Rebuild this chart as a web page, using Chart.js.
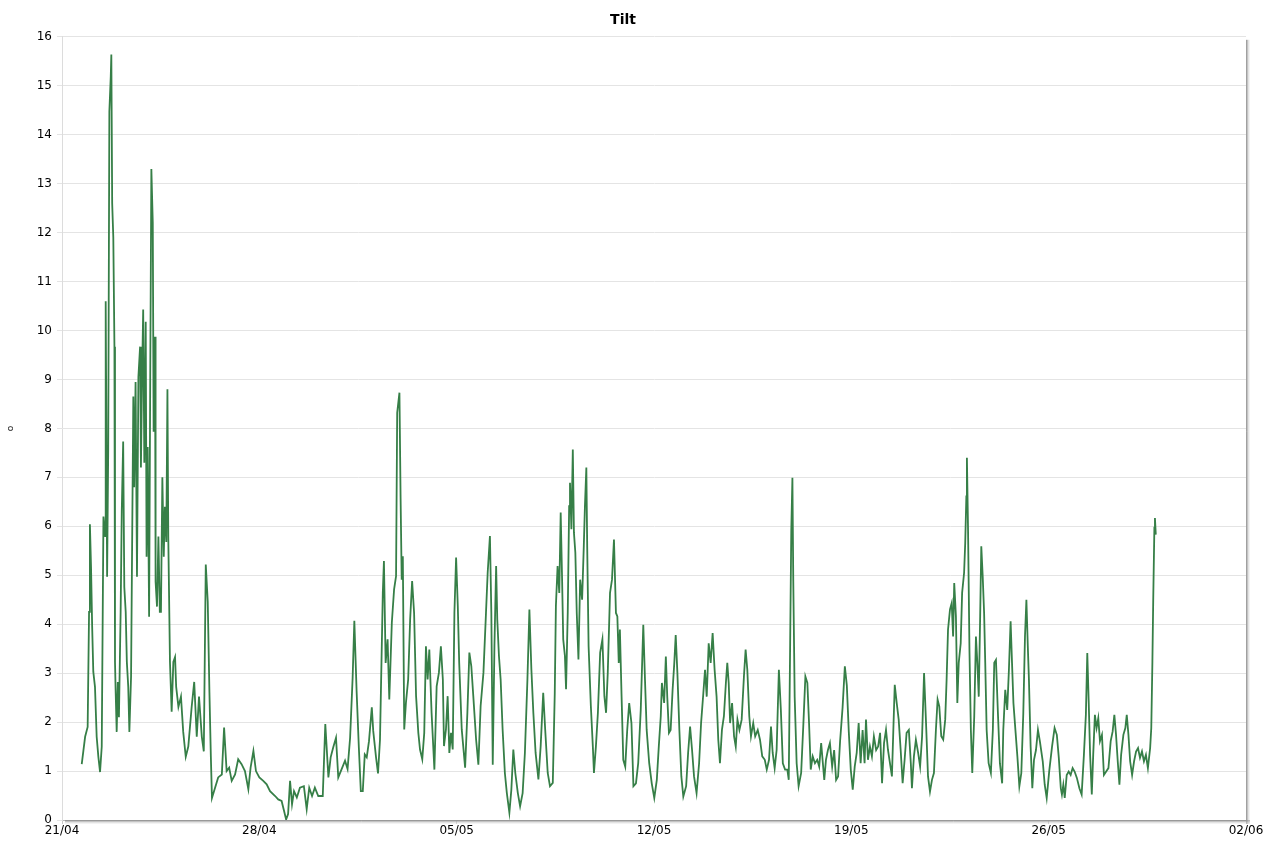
<!DOCTYPE html>
<html>
<head>
<meta charset="utf-8">
<title>Tilt</title>
<script src="https://cdn.jsdelivr.net/npm/chart.js@4.4.1/dist/chart.umd.min.js"></script>
<style>
  html, body { margin: 0; padding: 0; background: #fff; }
  #wrap { width: 1277px; height: 841px; }
</style>
</head>
<body>
<div id="wrap"><canvas id="grafico" width="1277" height="841"></canvas></div>
<script>
// tick labels of the time axis (one per week, starting 21/04)
const dateLabels = ['21/04', '28/04', '05/05', '12/05', '19/05', '26/05', '02/06'];

// time in days since 21/04 00:00
const days = [
  0.70, 0.82, 0.91, 0.96, 0.99, 1.03, 1.07, 1.11, 1.17, 1.23, 1.29, 1.35, 1.41, 1.47, 1.53, 1.55,
  1.60, 1.64, 1.68, 1.73, 1.75, 1.78, 1.82, 1.86, 1.88, 1.90, 1.94, 1.98, 2.02, 2.08, 2.12, 2.17,
  2.21, 2.26, 2.30, 2.35, 2.39, 2.45, 2.53, 2.56, 2.61, 2.66, 2.71, 2.77, 2.80, 2.84, 2.88, 2.92,
  2.97, 3.00, 3.04, 3.09, 3.13, 3.17, 3.22, 3.25, 3.30, 3.32, 3.37, 3.42, 3.47, 3.51, 3.56, 3.61,
  3.65, 3.70, 3.74, 3.77, 3.83, 3.89, 3.95, 4.01, 4.05, 4.13, 4.22, 4.30, 4.39, 4.48, 4.60, 4.69,
  4.78, 4.86, 4.96, 5.03, 5.10, 5.17, 5.23, 5.28, 5.32, 5.43, 5.54, 5.67, 5.75, 5.84, 5.93, 6.02,
  6.14, 6.25, 6.37, 6.49, 6.61, 6.69, 6.79, 6.88, 7.00, 7.14, 7.26, 7.38, 7.56, 7.67, 7.79, 7.88,
  7.95, 8.02, 8.09, 8.16, 8.23, 8.33, 8.44, 8.58, 8.68, 8.77, 8.87, 8.97, 9.09, 9.25, 9.34, 9.45,
  9.53, 9.62, 9.72, 9.80, 9.92, 10.04, 10.13, 10.22, 10.31, 10.37, 10.45, 10.53, 10.60, 10.67, 10.74, 10.81,
  10.89, 10.99, 11.04, 11.14, 11.21, 11.28, 11.38, 11.42, 11.48, 11.55, 11.61, 11.70, 11.78, 11.85, 11.89, 11.97,
  12.01, 12.05, 12.09, 12.14, 12.20, 12.28, 12.35, 12.42, 12.49, 12.56, 12.64, 12.70, 12.78, 12.85, 12.91, 12.97,
  13.03, 13.11, 13.21, 13.29, 13.37, 13.44, 13.51, 13.55, 13.62, 13.68, 13.74, 13.80, 13.86, 13.92, 13.98, 14.04,
  14.09, 14.18, 14.30, 14.38, 14.45, 14.52, 14.59, 14.69, 14.77, 14.85, 14.95, 15.04, 15.10, 15.18, 15.23, 15.28,
  15.34, 15.40, 15.44, 15.50, 15.56, 15.63, 15.71, 15.78, 15.87, 15.94, 16.01, 16.08, 16.17, 16.25, 16.34, 16.42,
  16.51, 16.58, 16.65, 16.72, 16.80, 16.90, 16.98, 17.07, 17.14, 17.23, 17.31, 17.41, 17.48, 17.52, 17.58, 17.64,
  17.69, 17.74, 17.78, 17.84, 17.88, 17.94, 17.99, 18.02, 18.07, 18.12, 18.16, 18.21, 18.26, 18.32, 18.38, 18.45,
  18.51, 18.55, 18.60, 18.63, 18.68, 18.76, 18.83, 18.87, 18.94, 19.01, 19.09, 19.17, 19.24, 19.30, 19.36, 19.44,
  19.51, 19.58, 19.65, 19.70, 19.75, 19.79, 19.85, 19.91, 19.98, 20.05, 20.12, 20.20, 20.27, 20.36, 20.44, 20.53,
  20.62, 20.68, 20.74, 20.83, 20.92, 21.01, 21.10, 21.17, 21.24, 21.28, 21.36, 21.42, 21.47, 21.53, 21.59, 21.66,
  21.72, 21.77, 21.83, 21.90, 21.97, 22.04, 22.14, 22.21, 22.28, 22.35, 22.42, 22.51, 22.60, 22.67, 22.75, 22.81,
  22.87, 22.94, 23.01, 23.08, 23.15, 23.22, 23.28, 23.34, 23.41, 23.48, 23.55, 23.60, 23.65, 23.70, 23.77, 23.84,
  23.90, 23.96, 24.03, 24.11, 24.19, 24.25, 24.31, 24.38, 24.44, 24.52, 24.59, 24.68, 24.76, 24.84, 24.93, 25.00,
  25.08, 25.15, 25.21, 25.28, 25.35, 25.43, 25.50, 25.57, 25.65, 25.73, 25.78, 25.83, 25.87, 25.91, 25.94, 25.99,
  26.06, 26.13, 26.22, 26.30, 26.37, 26.44, 26.50, 26.56, 26.63, 26.71, 26.79, 26.86, 26.93, 26.99, 27.04, 27.10,
  27.17, 27.24, 27.32, 27.39, 27.46, 27.53, 27.60, 27.69, 27.77, 27.84, 27.91, 27.98, 28.05, 28.12, 28.19, 28.26,
  28.33, 28.40, 28.47, 28.52, 28.59, 28.66, 28.73, 28.80, 28.88, 28.95, 29.02, 29.09, 29.16, 29.23, 29.30, 29.37,
  29.44, 29.49, 29.54, 29.61, 29.68, 29.75, 29.82, 29.89, 29.96, 30.04, 30.11, 30.15, 30.22, 30.29, 30.37, 30.44,
  30.51, 30.58, 30.65, 30.72, 30.79, 30.86, 30.93, 31.00, 31.06, 31.12, 31.19, 31.26, 31.33, 31.38, 31.43, 31.50,
  31.56, 31.61, 31.65, 31.71, 31.76, 31.81, 31.88, 31.93, 32.00, 32.04, 32.08, 32.10, 32.14, 32.19, 32.24, 32.29,
  32.36, 32.42, 32.47, 32.52, 32.57, 32.61, 32.66, 32.71, 32.75, 32.80, 32.87, 32.95, 33.02, 33.07, 33.13, 33.20,
  33.27, 33.35, 33.39, 33.46, 33.53, 33.59, 33.65, 33.70, 33.75, 33.82, 33.89, 33.96, 34.03, 34.10, 34.16, 34.21,
  34.26, 34.30, 34.36, 34.42, 34.48, 34.55, 34.62, 34.69, 34.79, 34.86, 34.93, 35.02, 35.12, 35.21, 35.29, 35.36,
  35.43, 35.47, 35.52, 35.57, 35.64, 35.71, 35.78, 35.85, 35.92, 36.00, 36.09, 36.17, 36.25, 36.32, 36.37, 36.42,
  36.47, 36.53, 36.58, 36.64, 36.70, 36.76, 36.82, 36.89, 36.96, 37.04, 37.12, 37.20, 37.27, 37.33, 37.39, 37.45,
  37.51, 37.57, 37.65, 37.72, 37.77, 37.83, 37.89, 37.96, 38.03, 38.10, 38.17, 38.24, 38.31, 38.38, 38.45, 38.52,
  38.60, 38.64, 38.68, 38.71, 38.75, 38.77, 38.80
];

// tilt in degrees, one per entry of days
const tilt = [
  1.14, 1.70, 1.90, 4.25, 6.04, 5.17, 3.95, 3.03, 2.72, 1.70, 1.29, 0.98, 1.50, 6.20, 5.80, 10.60,
  4.97, 7.60, 14.47, 15.20, 15.64, 12.60, 11.90, 9.67, 3.23, 2.70, 1.80, 2.82, 2.10, 4.25, 6.30, 7.73,
  4.76, 4.25, 3.23, 2.72, 1.80, 2.93, 8.65, 6.80, 8.95, 4.97, 9.05, 9.67, 7.20, 9.05, 10.43, 7.30,
  10.18, 5.38, 7.62, 4.15, 9.05, 13.30, 12.20, 7.93, 9.87, 4.87, 4.36, 5.79, 4.25, 4.25, 7.00, 5.38,
  6.40, 5.68, 8.80, 5.79, 3.23, 2.21, 3.23, 3.33, 2.72, 2.31, 2.52, 1.80, 1.29, 1.50, 2.31, 2.82,
  1.70, 2.52, 1.70, 1.40, 5.22, 4.46, 2.60, 1.30, 0.45, 0.66, 0.87, 0.93, 1.89, 1.00, 1.07, 0.80,
  0.93, 1.24, 1.14, 1.00, 0.63, 1.07, 1.41, 1.00, 0.87, 0.80, 0.73, 0.59, 0.49, 0.42, 0.39, 0.18,
  0.01, 0.12, 0.80, 0.32, 0.59, 0.46, 0.66, 0.69, 0.22, 0.66, 0.49, 0.66, 0.49, 0.49, 1.96, 0.87,
  1.28, 1.48, 1.68, 0.87, 1.04, 1.21, 1.04, 1.68, 2.91, 4.07, 2.64, 1.48, 0.59, 0.59, 1.34, 1.28,
  1.61, 2.30, 1.82, 1.28, 0.95, 1.64, 4.64, 5.29, 3.21, 3.69, 2.46, 4.03, 4.71, 4.98, 8.32, 8.73,
  6.62, 4.91, 5.39, 1.85, 2.39, 2.87, 4.10, 4.88, 4.23, 2.53, 1.78, 1.44, 1.24, 1.78, 3.55, 2.87,
  3.48, 2.19, 1.03, 2.73, 3.01, 3.55, 2.87, 1.51, 1.85, 2.53, 1.37, 1.78, 1.44, 4.23, 5.36, 4.37,
  3.21, 1.85, 1.07, 2.19, 3.42, 3.14, 2.53, 1.64, 1.13, 2.33, 3.01, 4.23, 5.05, 5.80, 4.23, 1.13,
  3.55, 5.19, 4.10, 3.35, 2.87, 1.85, 0.96, 0.55, 0.15, 0.62, 1.44, 0.96, 0.55, 0.28, 0.55, 1.37,
  2.87, 4.30, 3.08, 2.19, 1.37, 0.83, 1.51, 2.60, 1.85, 0.96, 0.69, 0.76, 2.60, 4.37, 5.19, 4.64,
  6.28, 4.91, 3.69, 3.35, 2.67, 4.23, 6.41, 6.89, 5.94, 7.57, 5.87, 5.46, 4.23, 3.28, 4.91, 4.50,
  5.60, 6.41, 7.20, 5.60, 3.55, 2.33, 1.51, 0.96, 1.51, 2.19, 3.42, 3.69, 2.53, 2.19, 3.01, 4.64,
  4.91, 5.73, 4.23, 4.16, 3.21, 3.89, 2.52, 1.23, 1.09, 1.84, 2.39, 1.98, 0.69, 0.75, 1.16, 2.25,
  3.99, 2.87, 1.84, 1.16, 0.75, 0.45, 0.82, 1.50, 2.12, 2.80, 2.39, 3.34, 2.52, 1.78, 1.84, 2.66,
  3.21, 3.78, 3.00, 1.84, 0.89, 0.48, 0.69, 1.37, 1.91, 1.43, 0.89, 0.55, 1.16, 1.98, 2.59, 3.07,
  2.52, 3.61, 3.21, 3.82, 3.07, 2.52, 1.64, 1.16, 1.84, 2.12, 2.80, 3.21, 2.80, 1.98, 2.39, 1.71,
  1.50, 2.05, 1.84, 2.05, 2.93, 3.48, 3.07, 2.12, 1.71, 1.98, 1.71, 1.84, 1.64, 1.30, 1.23, 1.03,
  1.23, 1.91, 1.37, 1.06, 1.43, 3.07, 2.25, 1.16, 1.03, 1.03, 0.82, 3.61, 5.93, 6.99, 4.91, 2.52,
  1.16, 0.69, 0.96, 1.98, 2.93, 2.80, 1.98, 1.03, 1.30, 1.16, 1.23, 1.09, 1.57, 1.16, 0.82, 1.23,
  1.43, 1.57, 1.09, 1.43, 0.82, 0.89, 1.60, 2.30, 3.14, 2.75, 1.80, 1.03, 0.62, 1.09, 1.37, 1.98,
  1.16, 1.84, 1.16, 2.05, 1.23, 1.50, 1.30, 1.71, 1.43, 1.50, 1.78, 0.75, 1.57, 1.84, 1.43, 1.16,
  0.89, 1.84, 2.76, 2.39, 2.05, 1.43, 0.75, 1.23, 1.78, 1.84, 1.16, 0.65, 1.30, 1.64, 1.37, 1.09,
  1.71, 3.00, 1.98, 0.89, 0.58, 0.82, 0.96, 1.84, 2.46, 2.32, 1.71, 1.64, 2.05, 2.87, 3.89, 4.30,
  4.43, 3.75, 4.84, 4.16, 2.39, 3.21, 3.61, 4.64, 5.05, 5.66, 6.61, 7.40, 5.93, 3.48, 1.84, 0.96,
  2.12, 3.75, 3.21, 2.52, 4.16, 5.59, 4.98, 4.23, 3.21, 1.84, 1.16, 0.96, 1.84, 3.21, 3.27, 2.18,
  1.16, 0.75, 1.84, 2.66, 2.25, 3.07, 4.06, 3.21, 2.39, 1.84, 1.30, 0.69, 0.96, 2.18, 3.75, 4.50,
  3.55, 2.87, 1.50, 0.65, 1.23, 1.43, 1.84, 1.60, 1.20, 0.72, 0.45, 1.00, 1.50, 1.88, 1.74, 1.27,
  0.65, 0.52, 0.72, 0.45, 0.92, 0.99, 0.92, 1.06, 0.99, 0.86, 0.65, 0.52, 1.33, 2.15, 3.41, 2.42,
  1.33, 0.52, 1.33, 2.15, 1.88, 2.08, 1.61, 1.74, 0.92, 0.99, 1.06, 1.61, 1.81, 2.15, 1.74, 1.20,
  0.72, 1.33, 1.74, 1.88, 2.15, 1.74, 1.20, 0.92, 1.20, 1.40, 1.47, 1.27, 1.40, 1.20, 1.33, 1.06,
  1.47, 1.88, 3.24, 4.54, 5.97, 6.17, 5.83
];

const yTicks = [0, 16]; // y axis range, step 1

// grey shadow on the right and bottom edge of the plot frame
const frameShadow = {
  id: 'frameShadow',
  afterDraw(chart) {
    const a = chart.chartArea;
    const ctx = chart.ctx;
    ctx.save();
    const shades = ['rgba(150,150,150,0.9)', 'rgba(170,170,170,0.7)', 'rgba(200,200,200,0.5)', 'rgba(225,225,225,0.4)'];
    shades.forEach((c, i) => {
      ctx.strokeStyle = c;
      ctx.lineWidth = 1;
      ctx.beginPath();
      ctx.moveTo(a.right + 0.5 + i, a.top + 3);
      ctx.lineTo(a.right + 0.5 + i, a.bottom + 4);
      ctx.moveTo(a.left + 3, a.bottom + 0.5 + i);
      ctx.lineTo(a.right + 4, a.bottom + 0.5 + i);
      ctx.stroke();
    });
    ctx.restore();
  }
};

const ctx = document.querySelector('#grafico').getContext('2d');
new Chart(ctx, {
  type: 'line',
  data: {
    datasets: [{
      label: 'Tilt',
      data: days.map((d, i) => ({ x: d, y: tilt[i] })),
      borderColor: '#367f47',
      borderWidth: 1.8,
      pointRadius: 0,
      tension: 0,
      fill: false
    }]
  },
  options: {
    responsive: false,
    animation: false,
    layout: { padding: { left: 0, right: 31, top: 0, bottom: 0 } },
    plugins: {
      legend: { display: false },
      tooltip: { enabled: false },
      title: {
        display: true,
        text: 'Tilt',
        color: '#000',
        font: { family: 'DejaVu Sans', size: 14, weight: 'bold' },
        padding: { top: 12, bottom: 8 }
      }
    },
    scales: {
      x: {
        type: 'linear',
        min: 0,
        max: 42,
        afterFit(scale) { scale.height = 21; },
        ticks: {
          stepSize: 7,
          autoSkip: false,
          maxRotation: 0,
          padding: 0,
          color: '#000',
          font: { family: 'DejaVu Sans', size: 12 },
          callback: (v) => dateLabels[Math.round(v / 7)]
        },
        grid: { drawOnChartArea: false, tickLength: 4, color: '#c8c8c8' },
        border: { color: '#b8b8b8' }
      },
      y: {
        min: yTicks[0],
        max: yTicks[1],
        afterFit(scale) { scale.width = 62; },
        ticks: {
          stepSize: 1,
          padding: 5,
          color: '#000',
          font: { family: 'DejaVu Sans', size: 12 }
        },
        grid: { color: '#e4e4e4', tickLength: 5 },
        border: { color: '#dcdcdc' },
        title: {
          display: true,
          text: 'o',
          color: '#222',
          font: { family: 'DejaVu Sans', size: 9 },
          padding: { top: 5, bottom: 0 }
        }
      }
    }
  },
  plugins: [frameShadow]
});
</script>
</body>
</html>
